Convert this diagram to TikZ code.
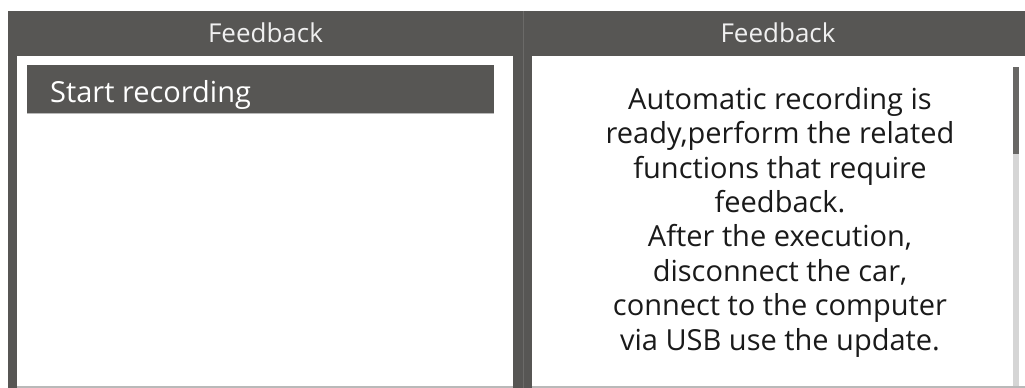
\documentclass[tikz,border=0pt]{standalone}
\usepackage{fontspec}
\setmainfont{Open Sans}
\usetikzlibrary{positioning}
\definecolor{panelgray}{HTML}{575654}
\definecolor{seamgray}{HTML}{6B6A68}
\definecolor{trackgray}{HTML}{D5D5D5}
\definecolor{edgegray}{HTML}{B9B9B9}
\definecolor{bodyblack}{HTML}{1A1A1A}
\tikzset{
	panel/.style={fill=panelgray, draw=none},
	screen/.style={fill=white, draw=none},
	titletext/.style={text=white!94!black, font=\fontsize{26}{30}\selectfont, inner sep=0},
	itemtext/.style={text=white, font=\fontsize{29}{34}\selectfont, inner sep=0},
	msgtext/.style={text=bodyblack, font=\fontsize{29}{34.4}\selectfont, inner sep=0, align=center},
}

\begin{document}
\begin{tikzpicture}[x=1pt, y=-1pt]
		\newcommand{\panelltop}{11}
		\newcommand{\headerbottom}{56}
		\newcommand{\screenbottom}{386}
		\useasboundingbox (0,0) rectangle (1025,388);
		\fill[white] (0,0) rectangle (1025,388);
		% left window
		\fill[panel] (8,\panelltop) rectangle (523,388);
		\fill[screen] (17,\headerbottom) rectangle (513,\screenbottom);
		\fill[edgegray] (17,\screenbottom) rectangle (513,388);
		\node[titletext] (lefttitle) at (265.5,33) {Feedback};
		\fill[panel] (27,65) rectangle (494,113);
		\draw[edgegray, line width=0.8] (27,113.8) -- (494,113.8);
		\node[itemtext, anchor=base west] (startrec) at (50,102) {Start recording};
		% right window
		\fill[panel] (523,\panelltop) rectangle (1025,388);
		\fill[screen] (532,\headerbottom) rectangle (1025,\screenbottom);
		\fill[edgegray] (532,\screenbottom) rectangle (1025,388);
		\draw[seamgray, line width=1] (523,\panelltop) -- (523,388);
		\node[titletext] (righttitle) at (778,33) {Feedback};
		\node[msgtext, anchor=north] (message) at (780,87) {Automatic recording is\\ready,perform the related\\functions that require\\feedback.\\After the execution,\\disconnect the car,\\connect to the computer\\via USB use the update.};
		% scrollbar
		\fill[trackgray] (1013,154) rectangle (1019,\screenbottom);
		\fill[panelgray!90!white] (1013,67) rectangle (1019,154);
	\end{tikzpicture}
\end{document}
